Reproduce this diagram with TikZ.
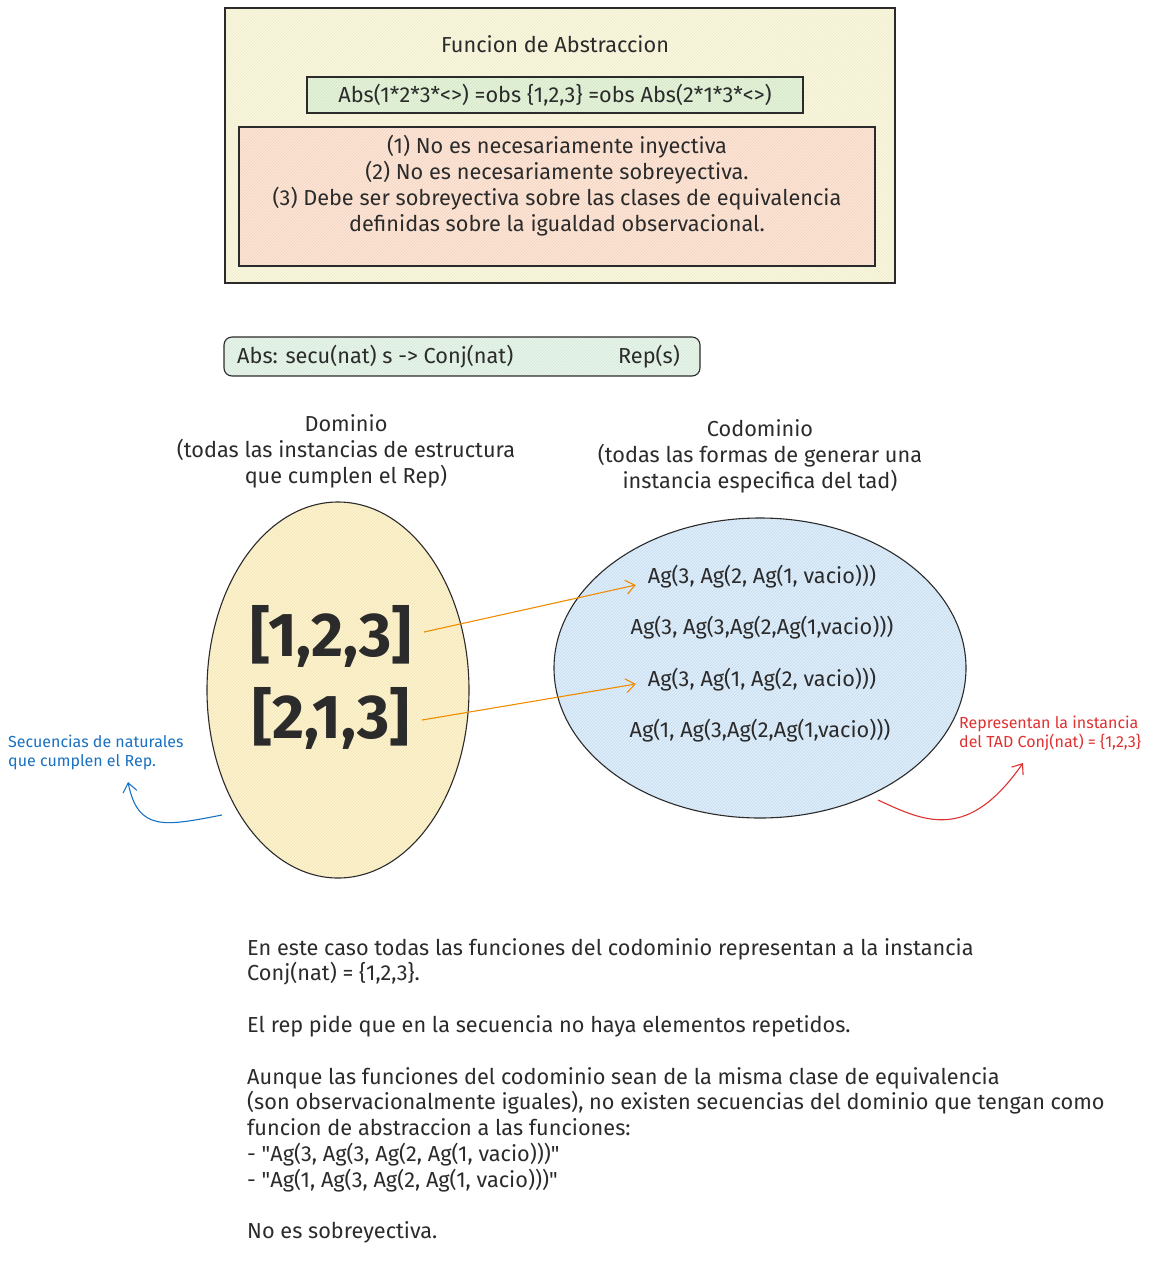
\documentclass[tikz,border=0pt]{standalone}
\usepackage{fontspec}
\setmainfont{Fira Sans}
\usepackage{tikz}
\usetikzlibrary{arrows.meta,positioning,shapes.geometric,patterns}
\definecolor{inkgray}{HTML}{2B2B2B}
\definecolor{boxyellow}{HTML}{FAF8E0}
\definecolor{hatchyellow}{HTML}{EDEBC8}
\definecolor{boxgreen}{HTML}{E4F2DA}
\definecolor{hatchgreen}{HTML}{D2E6C4}
\definecolor{boxpink}{HTML}{FDE6D8}
\definecolor{hatchpink}{HTML}{F3D2BF}
\definecolor{boxmint}{HTML}{E7F4EA}
\definecolor{hatchmint}{HTML}{D3E8D8}
\definecolor{domfill}{HTML}{FDF4D2}
\definecolor{domhatch}{HTML}{F3E2AE}
\definecolor{codfill}{HTML}{E0EEFA}
\definecolor{codhatch}{HTML}{C4DAEF}
\definecolor{lineorange}{HTML}{F08C00}
\definecolor{lineblue}{HTML}{1971C2}
\definecolor{linered}{HTML}{E03131}

\begin{document}
\begin{tikzpicture}[x=1pt,y=-1pt,>=Latex,
  every node/.style={inner sep=0pt,text=inkgray},
  hand/.style={font=\fontsize{21.7}{26}\selectfont},
  small/.style={font=\fontsize{16}{19}\selectfont},
  panel/.style n args={2}{draw=inkgray,line width=1.1,preaction={fill=#1},pattern=north east lines,pattern color=#2},
  blob/.style n args={2}{ellipse,draw=inkgray,line width=1.1,preaction={fill=#1},pattern=north east lines,pattern color=#2},
  barb/.style={-{Straight Barb[length=9pt,width=14pt]},line width=1.1}]
\useasboundingbox (0,0) rectangle (1173,1280);

% caja de la funcion de abstraccion
\node[panel={boxyellow}{hatchyellow},minimum width=670,minimum height=275] (absbox) at (560,145.5) {};
\node[hand] (title) at (555,44) {Funcion de Abstraccion};
\node[hand,panel={boxgreen}{hatchgreen},minimum width=496,minimum height=36] (obs) at (555,95)
  {Abs(1*2*3*<>) =obs \{1,2,3\} =obs Abs(2*1*3*<>)};
\node[panel={boxpink}{hatchpink},minimum width=636,minimum height=139] (props) at (557,196.5) {};
\node[hand,align=center] (proptext) at (557,186)
  {(1) No es necesariamente inyectiva\\
   (2) No es necesariamente sobreyectiva.\\
   (3) Debe ser sobreyectiva sobre las clases de equivalencia\\
   definidas sobre la igualdad observacional.};

% signatura
\node[panel={boxmint}{hatchmint},rounded corners=8,minimum width=476,minimum height=39] (sig) at (462,356.5) {};
\node[hand,anchor=west] (sigtext) at (237,357) {Abs: secu(nat) s -> Conj(nat)};
\node[hand] (rep) at (649,357) {Rep(s)};

% dominio y codominio
\node[hand,align=center] (domlbl) at (346,451) {Dominio\\(todas las instancias de estructura\\que cumplen el Rep)};
\node[hand,align=center] (codlbl) at (760,456) {Codominio\\(todas las formas de generar una\\instancia especifica del tad)};
\node[blob={domfill}{domhatch},minimum width=262,minimum height=376] (dom) at (338,690) {};
\node[blob={codfill}{codhatch},minimum width=412,minimum height=300] (cod) at (760,668) {};

\node[font=\fontsize{62}{64}\selectfont\bfseries] (s123) at (331,636) {[1,2,3]};
\node[font=\fontsize{62}{64}\selectfont\bfseries] (s213) at (331,718) {[2,1,3]};

\node[hand] (ag1) at (762,577) {Ag(3, Ag(2, Ag(1, vacio)))};
\node[hand] (ag2) at (762,628) {Ag(3, Ag(3,Ag(2,Ag(1,vacio)))};
\node[hand] (ag3) at (762,680) {Ag(3, Ag(1, Ag(2, vacio)))};
\node[hand] (ag4) at (760,731) {Ag(1, Ag(3,Ag(2,Ag(1,vacio)))};

\draw[barb,lineorange] ([xshift=12,yshift=4]s123.east) -- ([xshift=-12,yshift=-8]ag1.west);
\draw[barb,lineorange] ([xshift=12,yshift=-2]s213.east) -- ([xshift=-12,yshift=-4]ag3.west);

% anotaciones
\node[small,text=lineblue,anchor=north west,align=left] (bluelbl) at (8,735) {Secuencias de naturales\\que cumplen el Rep.};
\coordinate (bluestart) at (222,815);
\coordinate (bluetip) at (128,782);
\draw[barb,lineblue] (bluestart) .. controls (165,826) and (138,832) .. (bluetip);

\node[small,text=linered,anchor=north west,align=left] (redlbl) at (959,716) {Representan la instancia\\del TAD Conj(nat) = \{1,2,3\}};
\coordinate (redstart) at (878,800);
\coordinate (redtip) at (1023,763);
\draw[barb,linered] (redstart) .. controls (925,822) and (968,842) .. (redtip);

% texto final
\node[hand,font=\fontsize{21.7}{25.8}\selectfont,anchor=north west,align=left] (notes) at (247,938)
  {En este caso todas las funciones del codominio representan a la instancia\\
   Conj(nat) = \{1,2,3\}.\\[25.8pt]
   El rep pide que en la secuencia no haya elementos repetidos.\\[25.8pt]
   Aunque las funciones del codominio sean de la misma clase de equivalencia\\
   (son observacionalmente iguales), no existen secuencias del dominio que tengan como\\
   funcion de abstraccion a las funciones:\\
   - \textquotedbl Ag(3, Ag(3, Ag(2, Ag(1, vacio)))\textquotedbl\\
   - \textquotedbl Ag(1, Ag(3, Ag(2, Ag(1, vacio)))\textquotedbl\\[25.8pt]
   No es sobreyectiva.};
\end{tikzpicture}
\end{document}
